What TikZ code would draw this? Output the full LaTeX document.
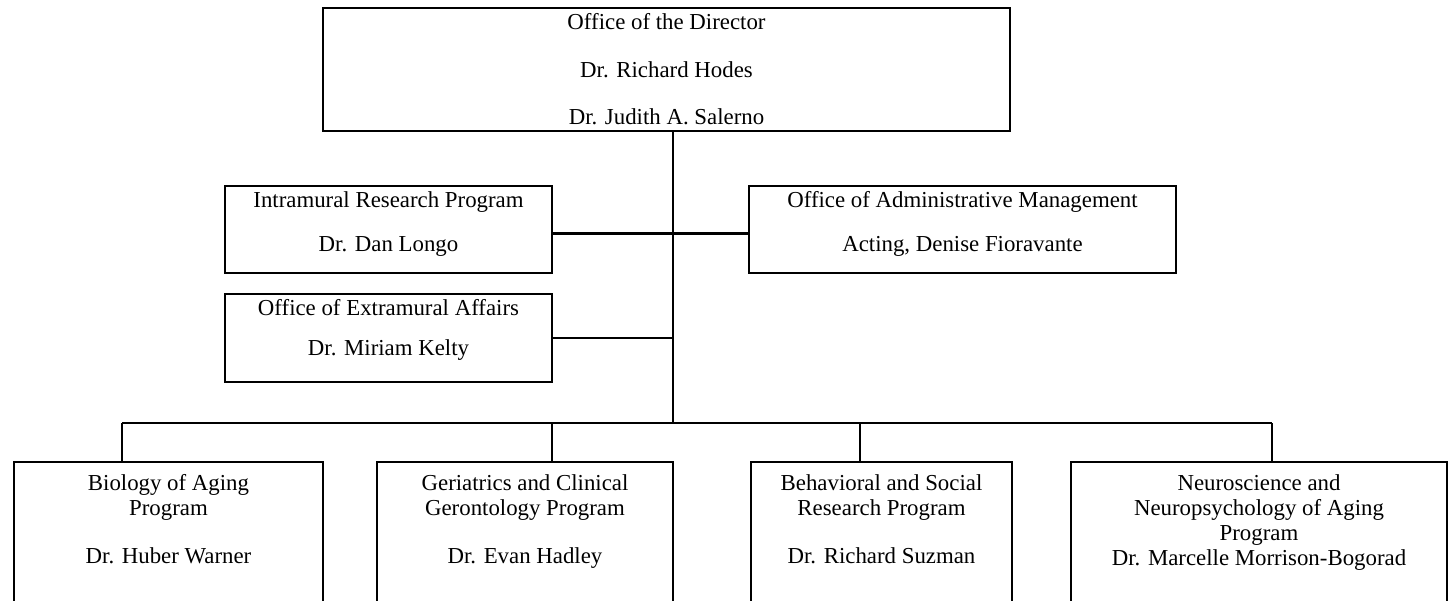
\documentclass[tikz,border=0pt]{standalone}
\usepackage{fontspec}
\setmainfont{Liberation Serif}
\usepackage{tikz}
\usetikzlibrary{positioning}

\begin{document}
\begin{tikzpicture}[x=0.02cm, y=-0.02cm, line width=1.3pt]
    \tikzstyle{unit} = [draw, rectangle, line width=1.5pt, inner sep=0pt]
    \tikzstyle{txt} = [align=center, inner sep=0pt, font=\fontsize{13}{14.2}\selectfont]

    \useasboundingbox (0,0) rectangle (1449,600);
    \clip (0,0) rectangle (1449,600);

    \node [unit, minimum width=13.74cm, minimum height=2.46cm] (director) at (666.5,69.5) {};
    \node [unit, minimum width=6.54cm, minimum height=1.74cm] (intra) at (388.5,229.5) {};
    \node [unit, minimum width=8.54cm, minimum height=1.74cm] (admin) at (962.5,229.5) {};
    \node [unit, minimum width=6.54cm, minimum height=1.76cm] (extra) at (388.5,338) {};
    \node [unit, minimum width=6.18cm, minimum height=3.56cm] (bio) at (168.5,551) {};
    \node [unit, minimum width=5.92cm, minimum height=3.56cm] (geri) at (525,551) {};
    \node [unit, minimum width=5.22cm, minimum height=3.56cm] (behav) at (881.5,551) {};
    \node [unit, minimum width=7.52cm, minimum height=3.56cm] (neuro) at (1259,551) {};

    \node [txt, below=0.08cm of director.north] (directorT) {\strut Office of the Director\\[13pt]Dr. Richard Hodes\\[13pt]Dr. Judith A. Salerno};
    \node [txt, below=0.08cm of intra.north] (intraT) {\strut Intramural Research Program\\[11pt]Dr. Dan Longo};
    \node [txt, below=0.08cm of admin.north] (adminT) {\strut Office of Administrative Management\\[11pt]Acting, Denise Fioravante};
    \node [txt, below=0.08cm of extra.north] (extraT) {\strut Office of Extramural Affairs\\[8.5pt]Dr. Miriam Kelty};
    \node [txt, below=0.22cm of bio.north] (bioT) {\strut Biology of Aging\\Program\\[13pt]Dr. Huber Warner};
    \node [txt, below=0.22cm of geri.north] (geriT) {\strut Geriatrics and Clinical\\Gerontology Program\\[13pt]Dr. Evan Hadley};
    \node [txt, below=0.22cm of behav.north] (behavT) {\strut Behavioral and Social\\Research Program\\[13pt]Dr. Richard Suzman};
    \node [txt, below=0.22cm of neuro.north] (neuroT) {\strut Neuroscience and\\Neuropsychology of Aging\\Program\\Dr. Marcelle Morrison-Bogorad};

    \coordinate (hub) at (673,423);
    \coordinate (d1) at (122,423);
    \coordinate (d2) at (552,423);
    \coordinate (d3) at (860,423);
    \coordinate (d4) at (1272,423);

    \draw (director.south -| hub) -- (hub);
    \draw ([yshift=-0.08cm]intra.east) -- ([yshift=-0.08cm]admin.west);
    \draw (extra.east) -- (extra.east -| hub);
    \draw (d1) -- (d4);
    \foreach \d/\b in {d1/bio, d2/geri, d3/behav, d4/neuro}
        \draw (\d) -- (\d |- \b.north);
\end{tikzpicture}
\end{document}
